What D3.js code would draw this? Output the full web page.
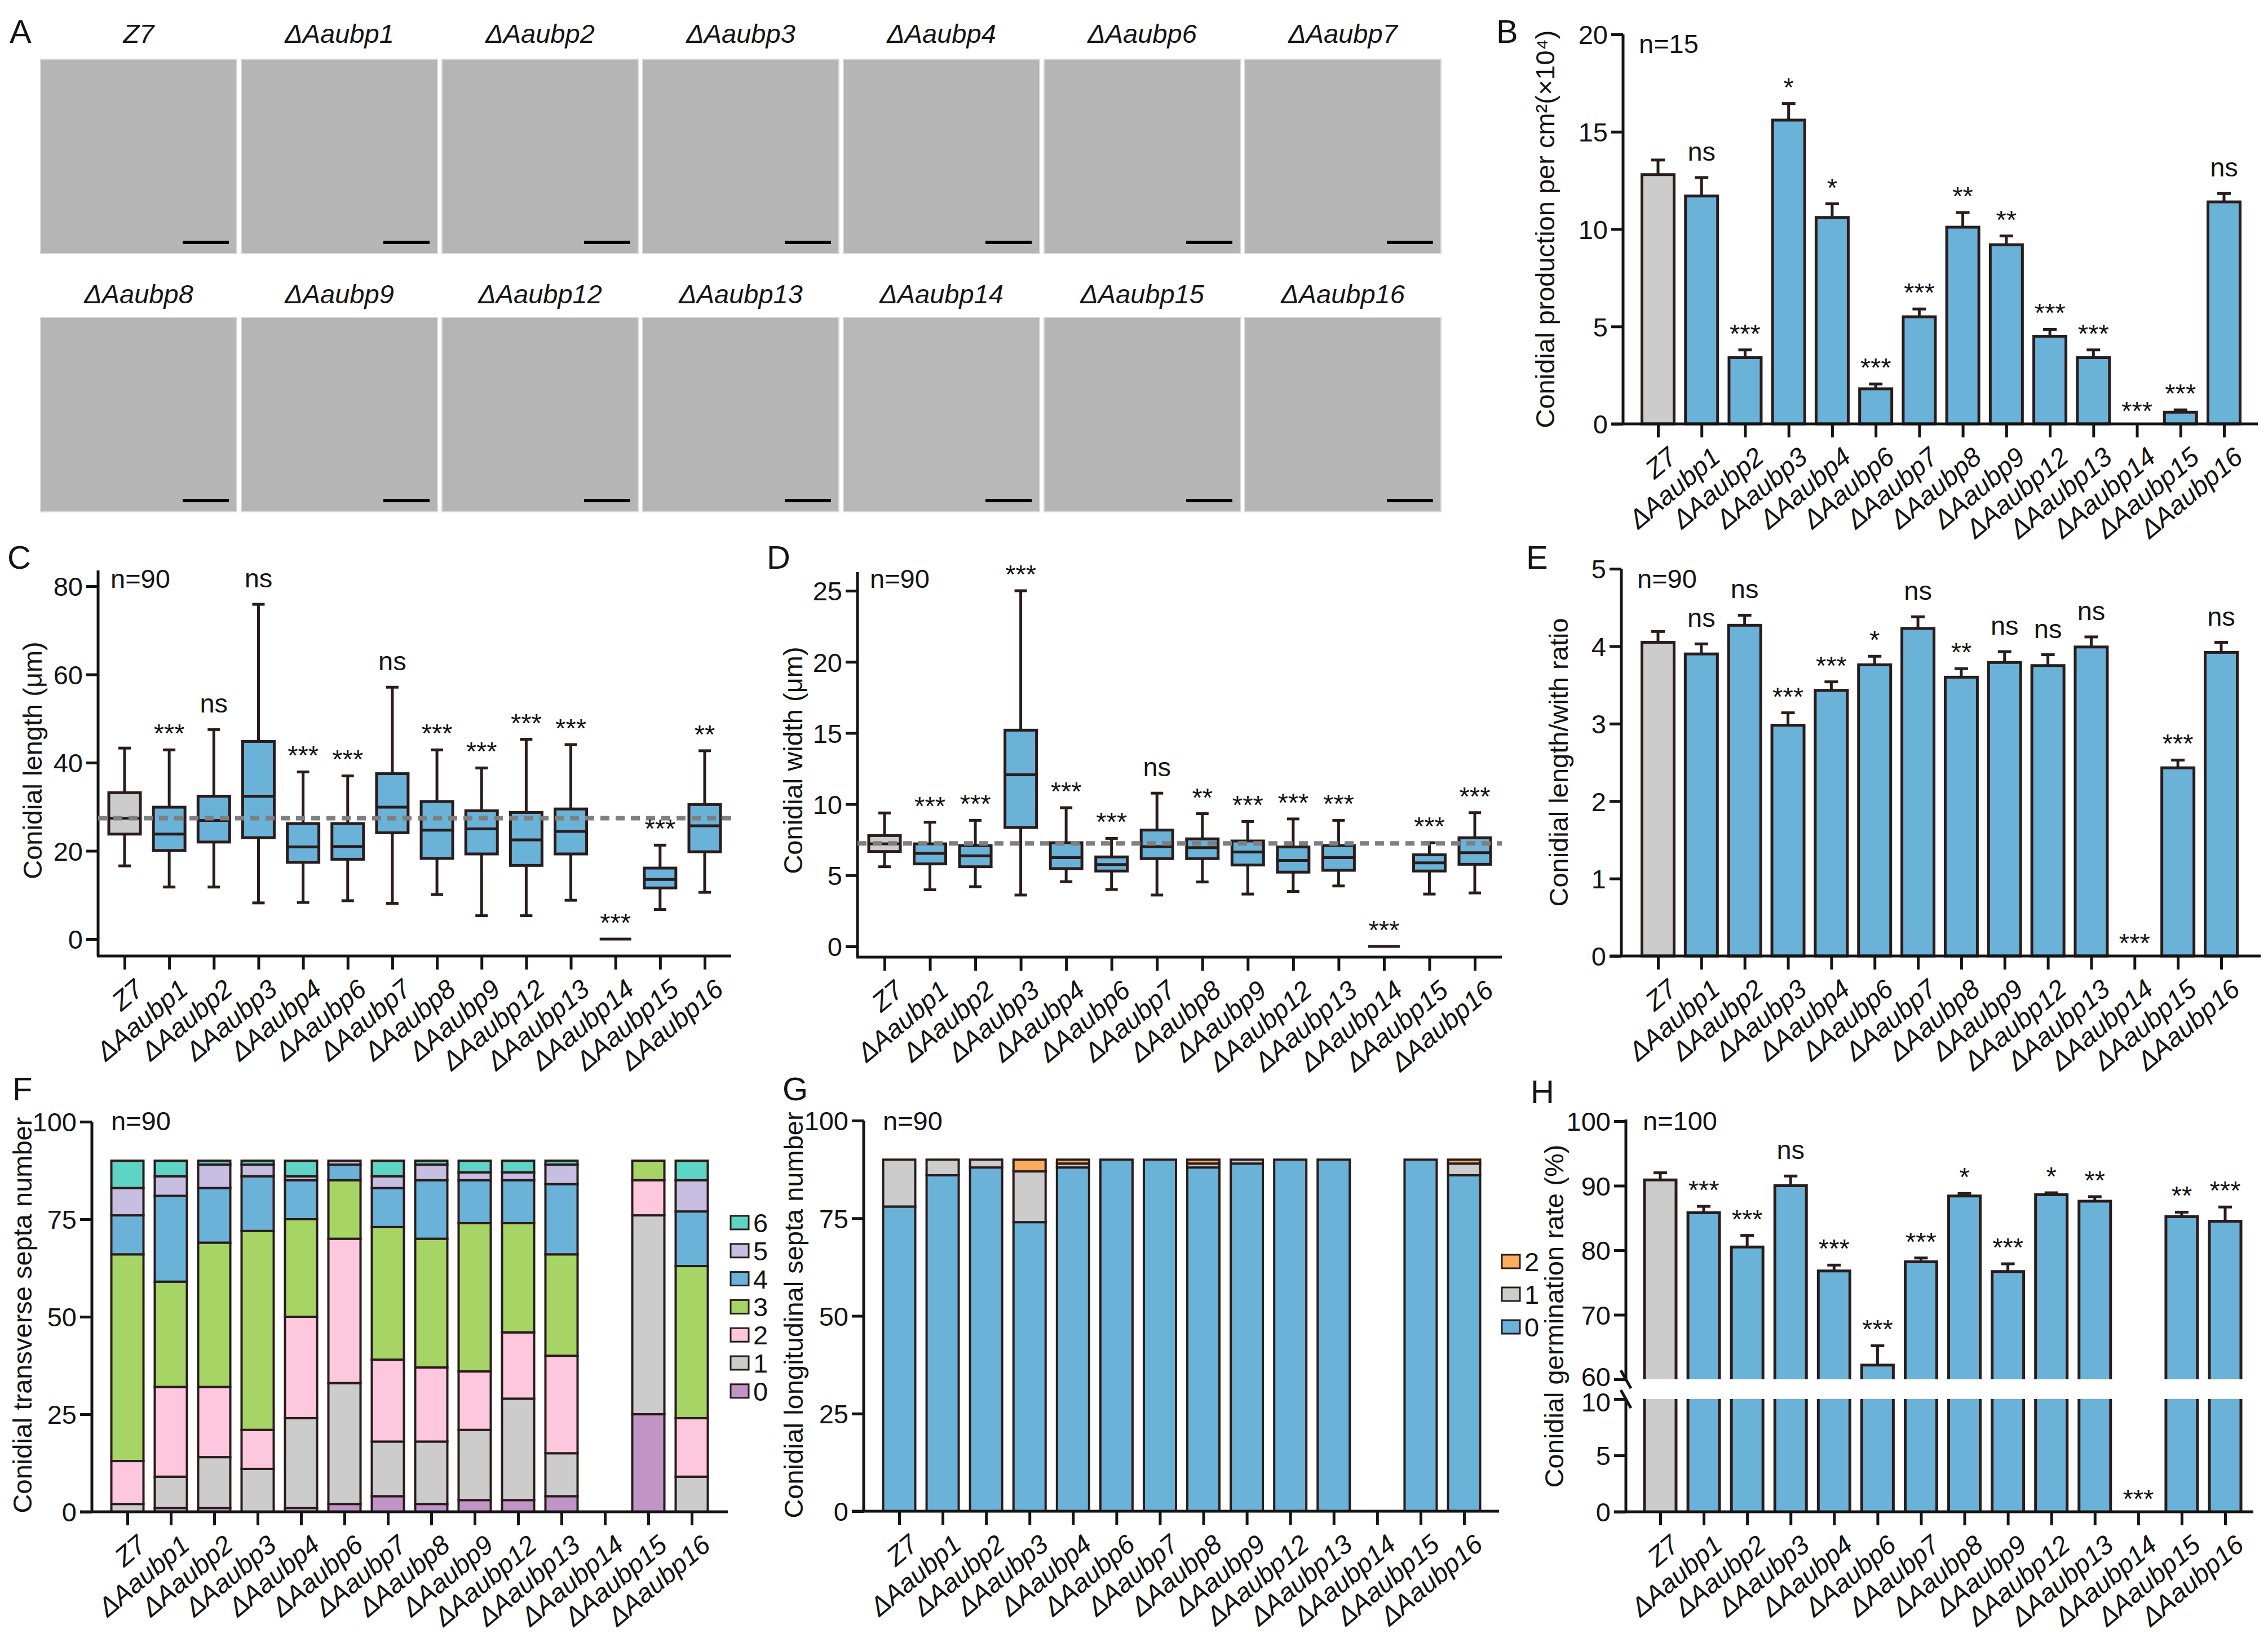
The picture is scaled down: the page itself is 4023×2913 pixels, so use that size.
<!DOCTYPE html>
<html>
<head>
<meta charset="utf-8">
<script src="https://cdn.jsdelivr.net/npm/d3@7"></script>
<style>
body { margin: 0; background: #fff; }
text { font-family: "Liberation Sans", Arial, sans-serif; fill: #141414; }
</style>
</head>
<body>
<svg id="fig"></svg>
<script>
// strains, same order in every panel
const strains = ["Z7", "ΔAaubp1", "ΔAaubp2", "ΔAaubp3", "ΔAaubp4", "ΔAaubp6", "ΔAaubp7",
  "ΔAaubp8", "ΔAaubp9", "ΔAaubp12", "ΔAaubp13", "ΔAaubp14", "ΔAaubp15", "ΔAaubp16"]

// B: conidial production
const prodMean = [12.8, 11.7, 3.4, 15.6, 10.6, 1.8, 5.5, 10.1, 9.2, 4.5, 3.4, 0, 0.6, 11.4]
const prodErr = [0.75, 0.95, 0.4, 0.85, 0.7, 0.25, 0.4, 0.75, 0.45, 0.35, 0.4, 0, 0.12, 0.43]
const prodSig = ["", "ns", "***", "*", "*", "***", "***", "**", "**", "***", "***", "***", "***", "ns"]
const prodTicks = [0, 5, 10, 15, 20]

// C: conidial length box plots
const lenMin = [16.6, 11.8, 11.8, 8.2, 8.3, 8.7, 8.1, 10.1, 5.3, 5.3, 8.8, 0, 6.7, 10.6]
const lenQ1 = [23.8, 20.1, 22.0, 23.0, 17.4, 18.1, 24.1, 18.3, 19.3, 16.7, 19.3, 0, 11.6, 19.8]
const lenMed = [27.4, 23.8, 26.9, 32.4, 20.9, 21.0, 29.9, 24.7, 25.0, 22.5, 24.4, 0, 13.5, 25.7]
const lenQ3 = [33.2, 29.9, 32.4, 44.8, 26.2, 26.2, 37.5, 31.2, 29.1, 28.7, 29.5, 0, 16.1, 30.5]
const lenMax = [43.3, 42.9, 47.5, 75.9, 37.9, 37.0, 57.1, 42.9, 38.8, 45.3, 44.1, 0, 21.3, 42.7]
const lenRef = 27.4
const lenSig = ["", "***", "ns", "ns", "***", "***", "ns", "***", "***", "***", "***", "***", "***", "**"]
const lenTicks = [0, 20, 40, 60, 80]

// D: conidial width box plots
const widMin = [5.6, 3.98, 4.2, 3.61, 4.55, 4.0, 3.61, 4.53, 3.68, 3.86, 4.25, 0, 3.68, 3.76]
const widQ1 = [6.67, 5.8, 5.6, 8.36, 5.47, 5.3, 6.17, 6.17, 5.72, 5.22, 5.35, 0, 5.3, 5.77]
const widMed = [7.21, 6.54, 6.37, 12.06, 6.24, 5.75, 7.01, 6.94, 6.64, 6.04, 6.24, 0, 5.87, 6.59]
const widQ3 = [7.79, 7.21, 7.09, 15.2, 7.29, 6.29, 8.18, 7.56, 7.41, 6.99, 7.09, 0, 6.44, 7.64]
const widMax = [9.38, 8.73, 8.86, 25.0, 9.75, 7.59, 10.77, 9.33, 8.78, 8.96, 8.86, 0, 7.29, 9.4]
const widRef = 7.24
const widSig = ["", "***", "***", "***", "***", "***", "ns", "**", "***", "***", "***", "***", "***", "***"]
const widTicks = [0, 5, 10, 15, 20, 25]

// E: length/width ratio
const ratioMean = [4.05, 3.9, 4.27, 2.98, 3.43, 3.76, 4.23, 3.6, 3.79, 3.75, 3.99, 0, 2.43, 3.92]
const ratioErr = [0.14, 0.13, 0.13, 0.16, 0.11, 0.11, 0.15, 0.11, 0.14, 0.14, 0.13, 0, 0.1, 0.13]
const ratioSig = ["", "ns", "ns", "***", "***", "*", "ns", "**", "ns", "ns", "ns", "***", "***", "ns"]
const ratioTicks = [0, 1, 2, 3, 4, 5]

// F: transverse septa counts (n=90)
const transKeys = ["0", "1", "2", "3", "4", "5", "6"]
const trans0 = [0, 1, 1, 0, 1, 2, 4, 2, 3, 3, 4, 0, 25, 0]
const trans1 = [2, 8, 13, 11, 23, 31, 14, 16, 18, 26, 11, 0, 51, 9]
const trans2 = [11, 23, 18, 10, 26, 37, 21, 19, 15, 17, 25, 0, 9, 15]
const trans3 = [53, 27, 37, 51, 25, 15, 34, 33, 38, 28, 26, 0, 5, 39]
const trans4 = [10, 22, 14, 14, 10, 4, 10, 15, 11, 11, 18, 0, 0, 14]
const trans5 = [7, 5, 6, 3, 1, 1, 3, 4, 2, 2, 5, 0, 0, 8]
const trans6 = [7, 4, 1, 1, 4, 0, 4, 1, 3, 3, 1, 0, 0, 5]
const transColors = ["#c194c6", "#cbcccb", "#fdc8de", "#a7d565", "#6ab2d7", "#c7bfe1", "#5ed4c4"]

// G: longitudinal septa counts (n=90)
const longKeys = ["0", "1", "2"]
const long0 = [78, 86, 88, 74, 88, 90, 90, 88, 89, 90, 90, 0, 90, 86]
const long1 = [12, 4, 2, 13, 1, 0, 0, 1, 1, 0, 0, 0, 0, 3]
const long2 = [0, 0, 0, 3, 1, 0, 0, 1, 0, 0, 0, 0, 0, 1]
const longColors = ["#6ab2d7", "#cbcccb", "#fbad5d"]

const septaTicks = [0, 25, 50, 75, 100]

// H: germination rate
const germMean = [90.9, 85.8, 80.5, 90.0, 76.8, 62.2, 78.2, 88.4, 76.7, 88.6, 87.6, 0, 85.2, 84.5]
const germErr = [1.1, 1.0, 1.8, 1.5, 0.9, 3.0, 0.6, 0.4, 1.2, 0.3, 0.7, 0, 0.7, 2.2]
const germSig = ["", "***", "***", "ns", "***", "***", "***", "*", "***", "*", "**", "***", "**", "***"]
const germTicksHi = [60, 70, 80, 90, 100]
const germTicksLo = [0, 5, 10]

const W = 4023, H = 2913
const INK = "#141414", EDGE = "#2a1c1c", BLUE = "#6ab2d7", GREY = "#cbcccb"
const FS = 47

const svg = d3.select("#fig").attr("width", W).attr("height", H)
svg.append("rect").attr("width", W).attr("height", H).attr("fill", "#fff")

function panelLetter(t, x, y) {
  svg.append("text").attr("x", x).attr("y", y).attr("font-size", 58).text(t)
}

function yAxis(g, y, x, ticks, top, bottom, shift) {
  g.append("line").attr("x1", x).attr("x2", x).attr("y1", top).attr("y2", bottom)
    .attr("stroke", INK).attr("stroke-width", 5)
  const ax = g.append("g").attr("transform", `translate(${x},0)`)
    .call(d3.axisLeft(y).tickValues(ticks).tickFormat(d3.format("d"))
      .tickSize(21).tickPadding(6).tickSizeOuter(0))
  ax.select(".domain").remove()
  ax.selectAll(".tick line").attr("stroke", INK).attr("stroke-width", 5)
  ax.selectAll(".tick text").attr("font-size", FS).attr("fill", INK).attr("dy", "0.36em")
  if (shift) ax.selectAll(".tick text").attr("y", shift)
}

function xAxis(g, xs, y, x0, x1) {
  g.append("line").attr("x1", x0).attr("x2", x1).attr("y1", y).attr("y2", y)
    .attr("stroke", INK).attr("stroke-width", 5)
  const ax = g.append("g").attr("transform", `translate(0,${y})`)
    .call(d3.axisBottom(xs).tickSize(24).tickSizeOuter(0))
  ax.select(".domain").remove()
  ax.selectAll(".tick line").attr("stroke", INK).attr("stroke-width", 5)
  ax.selectAll(".tick text")
    .attr("font-size", FS).attr("font-style", "italic").attr("fill", INK)
    .attr("x", 0).attr("y", 0).attr("dy", "0.72em")
    .attr("text-anchor", "end")
    .attr("transform", "translate(14,38) rotate(-40)")
}

function yTitle(g, t, x, y) {
  g.append("text").attr("transform", `translate(${x},${y}) rotate(-90)`)
    .attr("text-anchor", "middle").attr("font-size", FS).text(t)
}

function sigLabels(g, xs, tops, sig) {
  g.selectAll("text.sig").data(strains).enter().append("text").attr("class", "sig")
    .attr("x", d => xs(d)).attr("y", (d, i) => sig[i].includes("*") ? tops[i] - 1 : tops[i] - 18)
    .attr("text-anchor", "middle").attr("font-size", FS).text((d, i) => sig[i])
}

// ---------- A: micrographs (grey fields + scale bars) ----------
panelLetter("A", 17, 76)
const gA = svg.append("g")
const ax0 = 72, aStep = 356, aSize = 348, rowTop = [105, 563], rowLab = [76, 538]
strains.forEach((s, i) => {
  const r = Math.floor(i / 7), c = i % 7
  const px = ax0 + c * aStep, py = rowTop[r]
  gA.append("rect").attr("x", px).attr("y", py).attr("width", aSize).attr("height", aSize - 3)
    .attr("fill", s === "ΔAaubp14" ? "#b8b8b8" : "#b5b5b6").attr("stroke", "#d8d8d8").attr("stroke-width", 2)
  gA.append("text").attr("x", px + aSize / 2).attr("y", rowLab[r]).attr("text-anchor", "middle")
    .attr("font-size", FS).attr("font-style", "italic").text(s)
  gA.append("line").attr("x1", px + aSize - 96).attr("x2", px + aSize - 14)
    .attr("y1", py + aSize - 23).attr("y2", py + aSize - 23).attr("stroke", "#000").attr("stroke-width", 6)
})

// ---------- bar chart helper (B, E) ----------
function barPanel(opt) {
  const g = svg.append("g")
  const xs = d3.scalePoint().domain(strains).range([opt.cx0, opt.cx1])
  const y = d3.scaleLinear().domain([0, opt.max]).range([opt.y0, opt.yTop])
  const bw = 57
  yAxis(g, y, opt.ax, opt.ticks, opt.yTop, opt.y0)
  const idx = d3.range(strains.length).filter(i => opt.mean[i] > 0)
  g.selectAll("line.err").data(idx).enter().append("line")
    .attr("x1", i => xs(strains[i])).attr("x2", i => xs(strains[i]))
    .attr("y1", i => y(opt.mean[i])).attr("y2", i => y(opt.mean[i] + opt.err[i]))
    .attr("stroke", EDGE).attr("stroke-width", 5)
  g.selectAll("line.cap").data(idx).enter().append("line")
    .attr("x1", i => xs(strains[i]) - 12).attr("x2", i => xs(strains[i]) + 12)
    .attr("y1", i => y(opt.mean[i] + opt.err[i])).attr("y2", i => y(opt.mean[i] + opt.err[i]))
    .attr("stroke", EDGE).attr("stroke-width", 5)
  g.selectAll("rect.bar").data(idx).enter().append("rect")
    .attr("x", i => xs(strains[i]) - bw / 2).attr("width", bw)
    .attr("y", i => y(opt.mean[i])).attr("height", i => opt.y0 - y(opt.mean[i]))
    .attr("fill", i => i === 0 ? GREY : BLUE).attr("stroke", EDGE).attr("stroke-width", 5)
  xAxis(g, xs, opt.y0, opt.ax - 21, opt.axEnd)
  const tops = strains.map((d, i) => opt.mean[i] > 0 ? y(opt.mean[i] + opt.err[i]) - 12 : opt.y0 - 6)
  sigLabels(g, xs, tops, opt.sig)
  yTitle(g, opt.title, opt.titleX, (opt.yTop + opt.y0) / 2)
  g.append("text").attr("x", opt.ax + 28).attr("y", opt.nY).attr("font-size", FS).text(opt.n)
}

panelLetter("B", 2654, 76)
barPanel({ mean: prodMean, err: prodErr, sig: prodSig, ticks: prodTicks, max: 20,
  cx0: 2941, cx1: 3945, y0: 752, yTop: 61, ax: 2879, axEnd: 4005,
  title: "Conidial production per cm²(×10⁴)", titleX: 2757, n: "n=15", nY: 94 })

panelLetter("E", 2707, 1009)
barPanel({ mean: ratioMean, err: ratioErr, sig: ratioSig, ticks: ratioTicks, max: 5,
  cx0: 2941, cx1: 3940, y0: 1696, yTop: 1009, ax: 2876, axEnd: 4010,
  title: "Conidial length/with ratio", titleX: 2781, n: "n=90", nY: 1043 })

// ---------- box plot helper (C, D) ----------
function boxPanel(opt) {
  const g = svg.append("g")
  const xs = d3.scalePoint().domain(strains).range([opt.cx0, opt.cx1])
  const y = d3.scaleLinear().domain([0, opt.max]).range([opt.y0, opt.yMax])
  const bw = 56, cw = 22
  yAxis(g, y, opt.ax, opt.ticks, opt.axTop, opt.axisY)
  const idx = d3.range(strains.length)
  g.selectAll("line.wh").data(idx).enter().append("line")
    .attr("x1", i => xs(strains[i])).attr("x2", i => xs(strains[i]))
    .attr("y1", i => y(opt.lo[i])).attr("y2", i => y(opt.hi[i]))
    .attr("stroke", EDGE).attr("stroke-width", 5)
  ;[opt.lo, opt.hi].forEach(arr => {
    g.selectAll(null).data(idx.filter(i => opt.hi[i] > 0)).enter().append("line")
      .attr("x1", i => xs(strains[i]) - cw / 2).attr("x2", i => xs(strains[i]) + cw / 2)
      .attr("y1", i => y(arr[i])).attr("y2", i => y(arr[i]))
      .attr("stroke", EDGE).attr("stroke-width", 5)
  })
  g.selectAll("rect.box").data(idx).enter().append("rect")
    .attr("x", i => xs(strains[i]) - bw / 2).attr("width", bw)
    .attr("y", i => y(opt.q3[i])).attr("height", i => y(opt.q1[i]) - y(opt.q3[i]))
    .attr("fill", i => i === 0 ? GREY : BLUE).attr("stroke", EDGE).attr("stroke-width", 5)
  g.selectAll("line.med").data(idx).enter().append("line")
    .attr("x1", i => xs(strains[i]) - bw / 2).attr("x2", i => xs(strains[i]) + bw / 2)
    .attr("y1", i => y(opt.med[i])).attr("y2", i => y(opt.med[i]))
    .attr("stroke", EDGE).attr("stroke-width", 5)
  g.append("line").attr("x1", opt.ax).attr("x2", opt.axEnd)
    .attr("y1", y(opt.ref)).attr("y2", y(opt.ref))
    .attr("stroke", "#7f7f7f").attr("stroke-width", 8).attr("stroke-dasharray", "16 11")
  xAxis(g, xs, opt.axisY, opt.ax - 2, opt.axEnd)
  const tops = strains.map((d, i) => y(opt.hi[i]) - 12)
  sigLabels(g, xs, tops, opt.sig)
  yTitle(g, opt.title, opt.titleX, 1349)
  g.append("text").attr("x", opt.ax + 22).attr("y", 1043).attr("font-size", FS).text("n=90")
}

panelLetter("C", 13, 1009)
boxPanel({ lo: lenMin, q1: lenQ1, med: lenMed, q3: lenQ3, hi: lenMax, ref: lenRef, sig: lenSig,
  ticks: lenTicks, max: 80, y0: 1666, yMax: 1040, axTop: 1012, axisY: 1696,
  ax: 174, axEnd: 1297, cx0: 221, cx1: 1250, title: "Conidial length (μm)", titleX: 74 })

panelLetter("D", 1360, 1009)
boxPanel({ lo: widMin, q1: widQ1, med: widMed, q3: widQ3, hi: widMax, ref: widRef, sig: widSig,
  ticks: widTicks, max: 25, y0: 1679, yMax: 1048, axTop: 1015, axisY: 1698,
  ax: 1521, axEnd: 2664, cx0: 1569, cx1: 2616, title: "Conidial width (μm)", titleX: 1423 })

// ---------- stacked septa helper (F, G) ----------
function stackPanel(opt) {
  const g = svg.append("g")
  const xs = d3.scalePoint().domain(strains).range([opt.cx0, opt.cx1])
  const y = d3.scaleLinear().domain([0, 100]).range([opt.y0, opt.yTop])
  const bw = 57
  yAxis(g, y, opt.ax, septaTicks, opt.yTop, opt.y0)
  const rows = strains.map((s, i) => {
    const r = { strain: s }
    opt.keys.forEach((k, j) => { r[k] = opt.series[j][i] })
    return r
  })
  const layers = d3.stack().keys(opt.keys)(rows)
  g.selectAll("g.layer").data(layers).enter().append("g")
    .attr("fill", (d, j) => opt.colors[j])
    .selectAll("rect").data(d => d.filter(p => p[1] > p[0])).enter().append("rect")
    .attr("x", d => xs(d.data.strain) - bw / 2).attr("width", bw)
    .attr("y", d => y(d[1])).attr("height", d => y(d[0]) - y(d[1]))
    .attr("stroke", EDGE).attr("stroke-width", 4)
  xAxis(g, xs, opt.y0, opt.ax - 21, opt.axEnd)
  yTitle(g, opt.title, opt.titleX, 2333)
  g.append("text").attr("x", opt.ax + 34).attr("y", 2005).attr("font-size", FS).text("n=90")
  const lg = g.selectAll("g.leg").data(opt.keys.slice().reverse()).enter().append("g")
    .attr("transform", (d, i) => `translate(${opt.legX},${opt.legY + i * opt.legStep})`)
  lg.append("rect").attr("x", 0).attr("y", -12).attr("width", 32).attr("height", 24)
    .attr("fill", d => opt.colors[opt.keys.indexOf(d)]).attr("stroke", EDGE).attr("stroke-width", 3)
  lg.append("text").attr("x", 40).attr("y", 0).attr("dy", "0.36em").attr("font-size", FS).text(d => d)
}

panelLetter("F", 22, 1952)
stackPanel({ keys: transKeys, series: [trans0, trans1, trans2, trans3, trans4, trans5, trans6],
  colors: transColors, y0: 2682, yTop: 1990, ax: 163, axEnd: 1291, cx0: 226, cx1: 1227,
  title: "Conidial transverse septa number", titleX: 56, legX: 1296, legY: 2169, legStep: 49.8 })

panelLetter("G", 1388, 1952)
stackPanel({ keys: longKeys, series: [long0, long1, long2],
  colors: longColors, y0: 2681, yTop: 1988, ax: 1532, axEnd: 2659, cx0: 1595, cx1: 2597,
  title: "Conidial longitudinal septa number", titleX: 1424, legX: 2664, legY: 2238, legStep: 58 })

// ---------- H: broken-axis bars ----------
panelLetter("H", 2715, 1957)
{
  const g = svg.append("g")
  const xs = d3.scalePoint().domain(strains).range([2945, 3947])
  const yHi = d3.scaleLinear().domain([60, 100]).range([2447, 1989])
  const yLo = d3.scaleLinear().domain([0, 10]).range([2682, 2482])
  const ax = 2884, bw = 56
  yAxis(g, yHi, ax, germTicksHi, 1986, 2447)
  yAxis(g, yLo, ax, germTicksLo, 2482, 2682)
  // keep the 60 / 10 labels either side of the break apart
  g.selectAll(".tick text").filter(d => d === 60).attr("y", -5)
  g.selectAll(".tick text").filter(d => d === 10).attr("y", 5)
  const idx = d3.range(strains.length).filter(i => germMean[i] > 0)
  g.selectAll("line.err").data(idx).enter().append("line")
    .attr("x1", i => xs(strains[i])).attr("x2", i => xs(strains[i]))
    .attr("y1", i => yHi(germMean[i])).attr("y2", i => yHi(germMean[i] + germErr[i]))
    .attr("stroke", EDGE).attr("stroke-width", 5)
  g.selectAll("line.cap").data(idx).enter().append("line")
    .attr("x1", i => xs(strains[i]) - 12).attr("x2", i => xs(strains[i]) + 12)
    .attr("y1", i => yHi(germMean[i] + germErr[i])).attr("y2", i => yHi(germMean[i] + germErr[i]))
    .attr("stroke", EDGE).attr("stroke-width", 5)
  const fill = i => i === 0 ? GREY : BLUE
  // upper segment (60..value), open at the break
  g.selectAll("rect.hi").data(idx).enter().append("rect")
    .attr("x", i => xs(strains[i]) - bw / 2).attr("width", bw)
    .attr("y", i => yHi(germMean[i])).attr("height", i => yHi(60) - yHi(germMean[i]))
    .attr("fill", fill)
  g.selectAll("path.hi").data(idx).enter().append("path")
    .attr("d", i => {
      const x0 = xs(strains[i]) - bw / 2, x1 = x0 + bw, t = yHi(germMean[i]), b = yHi(60)
      return `M${x0},${b}V${t}H${x1}V${b}`
    })
    .attr("fill", "none").attr("stroke", EDGE).attr("stroke-width", 5)
  // lower segment (0..10)
  g.selectAll("rect.lo").data(idx).enter().append("rect")
    .attr("x", i => xs(strains[i]) - bw / 2).attr("width", bw)
    .attr("y", i => yLo(Math.min(germMean[i], 10))).attr("height", i => yLo(0) - yLo(Math.min(germMean[i], 10)))
    .attr("fill", fill)
  g.selectAll("path.lo").data(idx).enter().append("path")
    .attr("d", i => {
      const x0 = xs(strains[i]) - bw / 2, x1 = x0 + bw, t = yLo(Math.min(germMean[i], 10)), b = yLo(0)
      return `M${x0},${t}V${b}M${x1},${t}V${b}`
    })
    .attr("fill", "none").attr("stroke", EDGE).attr("stroke-width", 5)
  // break marks
  ;[yHi(60), yLo(10)].forEach(v => {
    g.append("line").attr("x1", ax - 9).attr("x2", ax + 9).attr("y1", v - 16).attr("y2", v + 16)
      .attr("stroke", INK).attr("stroke-width", 5)
  })
  xAxis(g, xs, 2682, ax - 21, 3997)
  const tops = strains.map((d, i) => germMean[i] > 0 ? yHi(germMean[i] + germErr[i]) - 12 : 2676)
  sigLabels(g, xs, tops, germSig)
  yTitle(g, "Conidial germination rate (%)", 2773, 2335)
  g.append("text").attr("x", ax + 30).attr("y", 2005).attr("font-size", FS).text("n=100")
}
</script>
</body>
</html>
